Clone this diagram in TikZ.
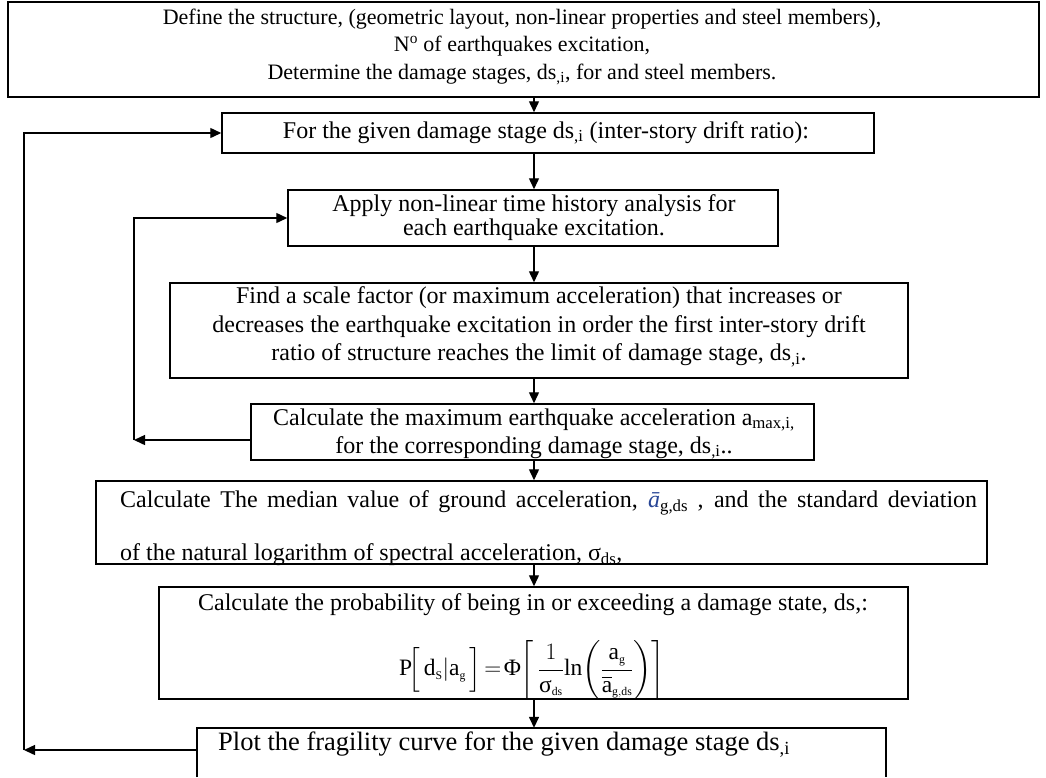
\documentclass[tikz,border=0pt]{standalone}
\usepackage{fix-cm}
\usepackage{amsmath}
\usepackage{fontspec}
\setmainfont{Liberation Serif}
\usetikzlibrary{arrows.meta}
\newcommand\sbs[1]{\textsubscript{#1}}
\newcommand\fsz[2]{\fontsize{#1}{#2}\selectfont}
\begin{document}
\begin{tikzpicture}[x=1pt,y=-1pt,
  box/.style={draw, line width=1.5pt, inner sep=0pt},
  txt/.style={inner sep=0pt, align=center},
  arr/.style={line width=1.4pt, -{Triangle[length=11pt,width=10pt]}}]
\useasboundingbox (0,0) rectangle (1046,777);
% boxes
\node[box, minimum width=1031pt, minimum height=95pt] (b1) at (523.5,49.5) {};
\node[box, minimum width=652pt, minimum height=40pt] (b2) at (548,133) {};
\node[box, minimum width=490pt, minimum height=56pt] (b3) at (533,218) {};
\node[box, minimum width=738pt, minimum height=95pt] (b4) at (539,330.5) {};
\node[box, minimum width=563pt, minimum height=56pt] (b5) at (532.5,432) {};
\node[box, minimum width=891pt, minimum height=83pt] (b6) at (541.5,522.5) {};
\node[box, minimum width=749pt, minimum height=112pt] (b7) at (533.5,643) {};
\node[inner sep=0pt, minimum width=689pt, minimum height=49pt] (b8) at (541.5,752.5) {};
\draw[line width=1.5pt] (b8.south west) -- (b8.north west) -- (b8.north east) -- (b8.south east);
% texts
\node[txt, font=\fsz{22}{27.5}] (t1) at (522,47) {Define the structure, (geometric layout, non-linear properties and steel members),\\
N\textsuperscript{o} of earthquakes excitation,\\
Determine the damage stages, ds\sbs{,i}, for and steel members.};
\node[txt, font=\fsz{24}{26}] (t2) at (546,133) {For the given damage stage ds\sbs{,i} (inter-story drift ratio):};
\node[txt, font=\fsz{24}{24}] (t3) at (534,218) {Apply non-linear time history analysis for\\ each earthquake excitation.};
\node[txt, font=\fsz{24}{28.5}] (t4) at (539,327) {Find a scale factor (or maximum acceleration) that increases or\\
decreases the earthquake excitation in order the first inter-story drift\\
ratio of structure reaches the limit of damage stage, ds\sbs{,i}.};
\node[txt, font=\fsz{24}{28}] (t5) at (534,434) {Calculate the maximum earthquake acceleration a\sbs{max,i,}\\
for the corresponding damage stage, ds\sbs{,i}..};
\node[inner sep=0pt, anchor=west, font=\fsz{24}{26}] (t6a) at (120,503) {\makebox[857pt][s]{Calculate The median value of ground acceleration, {\color[RGB]{40,70,150}\textit{ā}}\sbs{g,ds} , and the standard deviation}};
\node[inner sep=0pt, anchor=west, font=\fsz{24}{26}] (t6b) at (120,555) {of the natural logarithm of spectral acceleration, σ\sbs{ds},};
\node[txt, font=\fsz{24}{26}] (t7) at (533,605) {Calculate the probability of being in or exceeding a damage state, ds,:};
\node[txt, font=\fsz{23.5}{28}] (f7) at (532,670) {$\mathrm{P}\!\Big[\,\mathrm{d}_{\scriptscriptstyle\mathrm{S}}|\mathrm{a}_{\scriptscriptstyle\mathrm{g}}\,\Big]\!=\!\mbox{Φ}\!\left[\,\dfrac{1}{\mbox{σ}_{\scriptscriptstyle\mathrm{ds}}}\mathrm{ln}\!\left(\dfrac{\mathrm{a}_{\scriptscriptstyle\mathrm{g}}}{\overline{\mathrm{a}}_{\scriptscriptstyle\mathrm{g,ds}}}\right)\right]$};
\node[inner sep=0pt, anchor=west, font=\fsz{26.5}{30}] (t8) at (218,745) {Plot the fragility curve for the given damage stage ds\sbs{,i}};
% main arrows
\coordinate (ax) at (534,0);
\draw[arr] (b1.south -| ax) -- (b2.north -| ax);
\draw[arr] (b2.south -| ax) -- (b3.north -| ax);
\draw[arr] (b3.south -| ax) -- (b4.north -| ax);
\draw[arr] (b4.south -| ax) -- (b5.north -| ax);
\draw[arr] (b5.south -| ax) -- (b6.north -| ax);
\draw[arr] (b6.south -| ax) -- (b7.north -| ax);
\draw[arr] (b7.south -| ax) -- (b8.north -| ax);
% inner loop
\coordinate (il) at (134,440);
\draw[arr] (b5.west |- il) -- (il);
\draw[arr] (il) |- (b3.west);
% outer loop
\coordinate (ol) at (24,750);
\draw[arr] (b8.west |- ol) -- (ol);
\draw[arr] (ol) |- (b2.west);
\end{tikzpicture}
\end{document}
